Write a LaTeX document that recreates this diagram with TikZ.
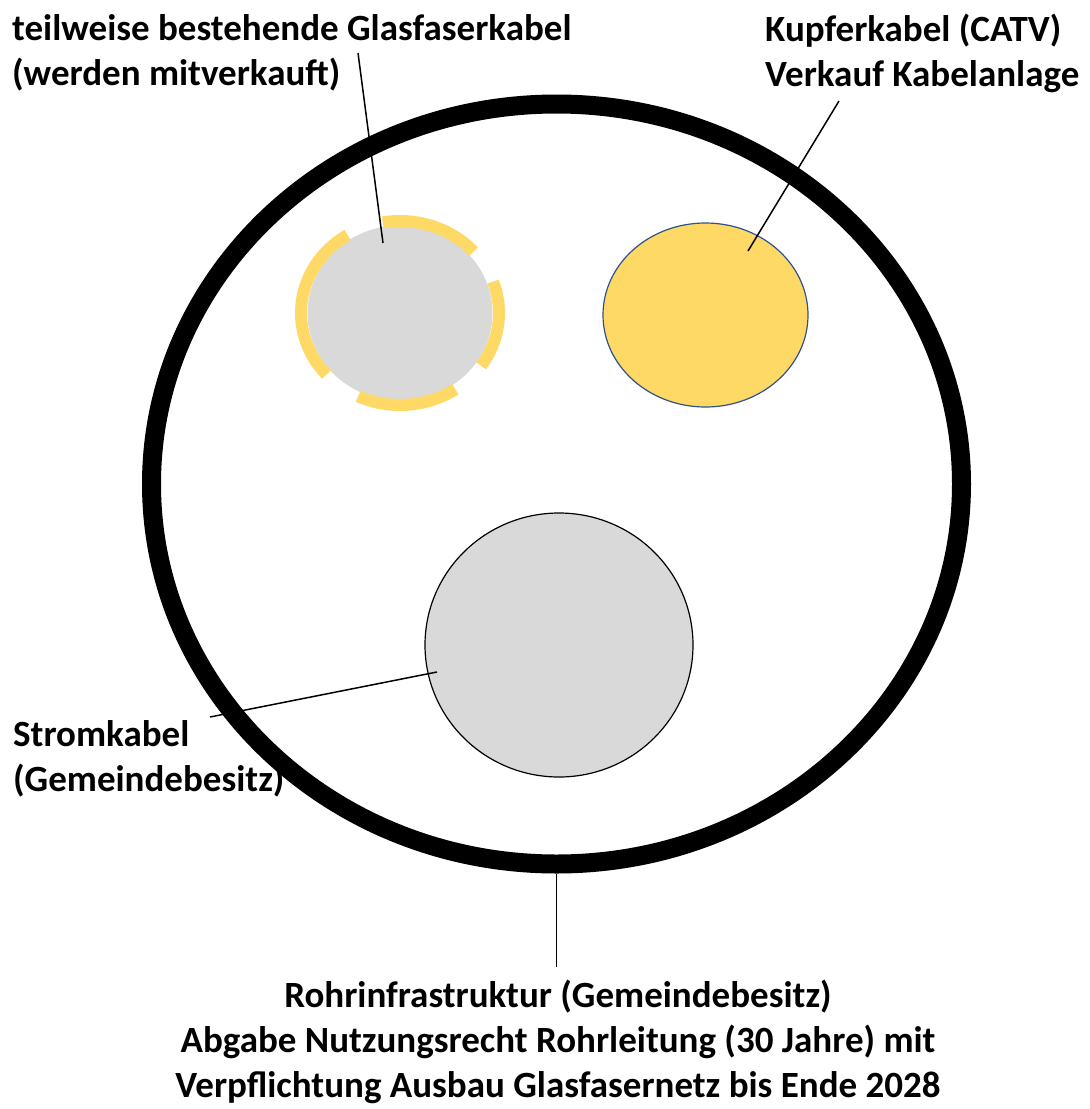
\documentclass[tikz,border=0pt]{standalone}
\usepackage{fontspec}
\setmainfont{Carlito}
\usepackage{xcolor, tikz}
\usetikzlibrary{shapes.geometric}
\definecolor{gold}{HTML}{FFD966}
\definecolor{lightgray}{HTML}{D9D9D9}
\definecolor{rimblue}{HTML}{2F528F}
\tikzset{cable label/.style={font=\bfseries\fontsize{37}{45}\selectfont, inner sep=0pt, align=left}}
\tikzset{leader/.style={line width=1.5pt, black}}
\tikzset{gold dash/.style={line width=12pt, gold}}

\begin{document}
\begin{tikzpicture}[x=1pt, y=-1pt]
    \newcommand\posGx{400}
    \newcommand\posGy{313}
    \newcommand\posKx{705.5}
    \newcommand\posKy{315}
    \newcommand\posSx{559}
    \newcommand\posSy{645}

    \useasboundingbox (0, 0) rectangle (1090, 1109);

    \node[ellipse, draw=black, line width=19pt, inner sep=0pt, minimum width=810pt, minimum height=760pt] (ring) at (556.5, 484){};

    \node[ellipse, fill=lightgray, inner sep=0pt, minimum width=185pt, minimum height=175pt] (glas) at (\posGx, \posGy){};
    \draw[gold dash] (\posGx, \posGy) ++(-100:99 and 92) arc[start angle=-100, end angle=-42, x radius=99, y radius=92];
    \draw[gold dash] (\posGx, \posGy) ++(-20:99 and 92) arc[start angle=-20, end angle=35, x radius=99, y radius=92];
    \draw[gold dash] (\posGx, \posGy) ++(56:99 and 92) arc[start angle=56, end angle=115, x radius=99, y radius=92];
    \draw[gold dash] (\posGx, \posGy) ++(138:99 and 92) arc[start angle=138, end angle=238, x radius=99, y radius=92];

    \node[ellipse, draw=rimblue, line width=1.2pt, fill=gold, inner sep=0pt, minimum width=205pt, minimum height=184pt] (kupfer) at (\posKx, \posKy){};
    \node[ellipse, draw=black, line width=1.2pt, fill=lightgray, inner sep=0pt, minimum width=268pt, minimum height=264pt] (strom) at (\posSx, \posSy){};

    % base anchor sits on the last line
    \node[cable label, anchor=base west] (lblGlas) at (12, 85){teilweise bestehende Glasfaserkabel\\(werden mitverkauft)};
    \node[cable label, anchor=base west] (lblKupfer) at (765, 86){Kupferkabel (CATV)\\Verkauf Kabelanlage};
    \node[cable label, anchor=base west] (lblStrom) at (13, 791){Stromkabel\\(Gemeindebesitz)};
    \node[cable label, align=center, inner sep=12pt, anchor=base] (lblRohr) at (558, 1097){Rohrinfrastruktur (Gemeindebesitz)\\Abgabe Nutzungsrecht Rohrleitung (30 Jahre) mit\\Verpflichtung Ausbau Glasfasernetz bis Ende 2028};

    % leader lines
    \coordinate (glasTip) at (358, 53);
    \coordinate (glasEnd) at (383, 243);
    \coordinate (kupferTip) at (839, 101);
    \coordinate (kupferEnd) at (748, 251);
    \coordinate (stromTip) at (210, 717);
    \coordinate (stromEnd) at (437, 672);
    \draw[leader] (glasTip) -- (glasEnd);
    \draw[leader] (kupferTip) -- (kupferEnd);
    \draw[leader] (stromTip) -- (stromEnd);
    \draw[leader] (ring.south) -- (ring.south |- lblRohr.north);
\end{tikzpicture}
\end{document}
